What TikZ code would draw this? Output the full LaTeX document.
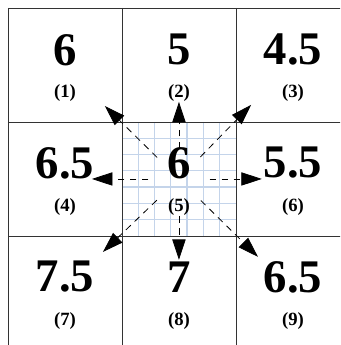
\documentclass[tikz,border=0pt]{standalone}
\usepackage{fontspec}
\setmainfont{Liberation Serif}
\usetikzlibrary{arrows.meta}
\definecolor{Ink}{HTML}{000000}
\definecolor{Rule}{HTML}{333333}
\definecolor{Mesh}{HTML}{C4D4EA}
\tikzset{
    valnode/.style={font=\bfseries\fontsize{35}{35}\selectfont, inner sep=0pt},
    idnode/.style={font=\bfseries\fontsize{14}{14}\selectfont, inner sep=0pt},
    cellline/.style={draw=Rule, line width=0.6pt},
    meshline/.style={draw=Mesh, line width=1pt},
    probe/.style={-{Triangle[length=5.4mm, width=3.5mm]}, dash pattern=on 5pt off 4pt, color=Ink, line width=0.6pt},
}

\begin{document}
\begin{tikzpicture}
                        \useasboundingbox (-0.21, 0.21) rectangle (8.74, -8.87);
                        \clip (-0.21, 0.21) rectangle (8.74, -8.87);

                        % Griglia fine della cella centrale
                        \foreach \k in {1,...,6} {
                            \draw[meshline] ({3+\k*3/7}, -3) -- ({3+\k*3/7}, -6);
                            \draw[meshline] (3, {-3-\k*3/7}) -- (6, {-3-\k*3/7});
                        }

                        % Celle 3x3
                        \foreach \k in {0,3,6,9} {
                            \draw[cellline] (\k, 0) -- (\k, -9.5);
                            \draw[cellline] (0, -\k) -- (9.5, -\k);
                        }

                        % Valori
                        \node[valnode] (v1) at (1.5, -1.1) {6};
                        \node[valnode] (v2) at (4.5, -1.1) {5};
                        \node[valnode] (v3) at (7.5, -1.1) {4.5};
                        \node[valnode] (v4) at (1.5, -4.08) {6.5};
                        \node[valnode] (v5) at (4.5, -4.08) {6};
                        \node[valnode] (v6) at (7.5, -4.08) {5.5};
                        \node[valnode] (v7) at (1.5, -7.08) {7.5};
                        \node[valnode] (v8) at (4.5, -7.08) {7};
                        \node[valnode] (v9) at (7.5, -7.08) {6.5};

                        % Indici
                        \node[idnode] (i1) at (1.5, -2.24) {(1)};
                        \node[idnode] (i2) at (4.5, -2.24) {(2)};
                        \node[idnode] (i3) at (7.5, -2.24) {(3)};
                        \node[idnode] (i4) at (1.5, -5.24) {(4)};
                        \node[idnode] (i5) at (4.5, -5.24) {(5)};
                        \node[idnode] (i6) at (7.5, -5.24) {(6)};
                        \node[idnode] (i7) at (1.5, -8.24) {(7)};
                        \node[idnode] (i8) at (4.5, -8.24) {(8)};
                        \node[idnode] (i9) at (7.5, -8.24) {(9)};

                        % Vicinato: centro e punte
                        \node[circle, inner sep=0pt, minimum size=1.6cm] (hub) at (4.5, -4.5) {};
                        \coordinate (t1) at (2.55, -2.58);
                        \coordinate (t2) at (4.5, -2.47);
                        \coordinate (t3) at (6.4, -2.55);
                        \coordinate (t4) at (2.21, -4.5);
                        \coordinate (t6) at (6.68, -4.5);
                        \coordinate (t7) at (2.5, -6.42);
                        \coordinate (t8) at (4.5, -6.63);
                        \coordinate (t9) at (6.58, -6.55);

                        \draw[probe] (hub) -- (t1);
                        \draw[probe] (hub) -- (t2);
                        \draw[probe] (hub) -- (t3);
                        \draw[probe] (hub) -- (t4);
                        \draw[probe] (hub) -- (t6);
                        \draw[probe] (hub) -- (t7);
                        \draw[probe] (i5.south) -- (t8);
                        \draw[probe] (hub) -- (t9);
                    \end{tikzpicture}
\end{document}
